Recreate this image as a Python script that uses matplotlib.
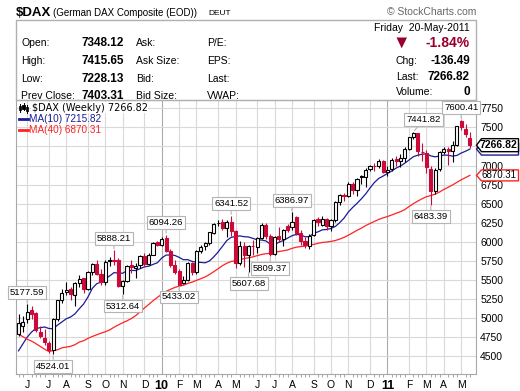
import numpy as np
import pandas as pd
import matplotlib
matplotlib.use("Agg")
import matplotlib.pyplot as plt
from matplotlib.patches import Rectangle, Polygon
from matplotlib.lines import Line2D

plt.rcParams['font.family'] = ['Liberation Sans', 'DejaVu Sans']

# weekly bars, first week starts Monday 18-May-2009, last is week of 16-May-2011
start_week = "2009-05-18"

opens = [4790, 4900, 4990, 5100, 5060, 4820, 4735, 4670, 4580, 4990,
         5230, 5335, 5380, 5300, 5460, 5520, 5380, 5600, 5710, 5580,
         5470, 5762, 5760, 5760, 5420, 5490, 5700, 5660, 5690, 5810,
         5710, 5830, 5990, 5960, 6045, 5880, 5700, 5610, 5460, 5500,
         5720, 5600, 5880, 5940, 5985, 6120, 6240, 6255, 6180, 6260,
         6140, 5720, 5950, 5830, 5950, 5930, 6050, 6220, 6070, 5840,
         6070, 6040, 6210, 6195, 6330, 6110, 6010, 5950, 6090, 6300,
         6225, 6300, 6210, 6280, 6520, 6610, 6600, 6760, 6680, 6860,
         6850, 6950, 7000, 6990, 7060, 6920, 6950, 7080, 7065, 7100,
         7220, 7380, 7420, 7180, 7170, 6950, 6670, 6950, 7180, 7220,
         7190, 7270, 7580, 7480, 7360]

highs = [5050, 5030, 5177.59, 5150, 5075, 4900, 4860, 4700, 4995, 5240,
         5380, 5470, 5400, 5470, 5560, 5530, 5620, 5720, 5760, 5640,
         5760, 5800, 5888.21, 5790, 5500, 5700, 5760, 5720, 5830, 5850,
         5850, 5990, 6010, 6060, 6094.26, 5900, 5760, 5640, 5550, 5730,
         5740, 5890, 5960, 6000, 6130, 6250, 6280, 6300, 6280, 6341.52,
         6150, 6010, 5990, 5960, 6020, 6060, 6240, 6240, 6100, 6080,
         6190, 6170, 6230, 6386.97, 6340, 6150, 6060, 6100, 6300, 6330,
         6340, 6310, 6300, 6540, 6630, 6640, 6780, 6790, 6840, 6880,
         6970, 7010, 7030, 7080, 7070, 6990, 7100, 7130, 7150, 7240,
         7380, 7441.82, 7430, 7300, 7200, 6990, 6970, 7190, 7240, 7240,
         7320, 7520, 7600.41, 7540, 7440]

lows = [4760, 4820, 4930, 4990, 4820, 4730, 4650, 4545, 4524.01, 4960,
        5200, 5300, 5230, 5150, 5400, 5330, 5360, 5560, 5560, 5430,
        5430, 5680, 5690, 5400, 5312.64, 5470, 5590, 5520, 5650, 5680,
        5700, 5820, 5940, 5940, 5860, 5670, 5580, 5433.02, 5450, 5480,
        5560, 5580, 5850, 5890, 5960, 6100, 6200, 6150, 6060, 6080,
        5660, 5700, 5670, 5607.68, 5830, 5850, 6030, 6040, 5809.37, 5820,
        6000, 5940, 6130, 6150, 6090, 5960, 5920, 5900, 6070, 6200,
        6210, 6160, 6140, 6260, 6480, 6540, 6590, 6620, 6600, 6760,
        6720, 6930, 6930, 6970, 6900, 6860, 6930, 7000, 6980, 7050,
        7200, 7350, 7120, 7060, 6900, 6483.39, 6620, 6930, 7150, 7010,
        7040, 7250, 7460, 7370, 7228.13]

closes = [4929, 4941, 5077, 5052, 4840, 4760, 4680, 4576, 4980, 5229,
          5332, 5360, 5310, 5462, 5517, 5378, 5600, 5705, 5581, 5467,
          5740, 5748, 5742, 5414, 5489, 5687, 5663, 5685, 5817, 5709,
          5831, 5985, 5957, 6037, 5875, 5696, 5608, 5434, 5500, 5722,
          5598, 5877, 5936, 5982, 6121, 6236, 6250, 6180, 6259, 6136,
          5716, 5946, 5829, 5947, 5938, 6049, 6217, 6070, 5835, 6066,
          6041, 6160, 6148, 6260, 6110, 6005, 5952, 6081, 6280, 6260,
          6299, 6211, 6280, 6520, 6610, 6601, 6754, 6682, 6822, 6849,
          6947, 6993, 6991, 7057, 6914, 6947, 7075, 7062, 7102, 7216,
          7372, 7426, 7185, 7178, 6983.2, 6664, 6946, 7180, 7217, 7188,
          7264, 7514, 7500, 7418.4, 7266.82]

# 39 weekly closes before the first bar (Aug 2008 - May 2009), for MA(40)
pre_closes = [6292, 6422, 6042, 6186, 6189, 6123, 5797, 4544, 4782, 4295,
              4988, 4899, 4621, 4127, 4669, 4381, 4709, 4696, 4629, 4984,
              4783, 4322, 4218, 4338, 4666, 4462, 4172, 3844, 3696, 3954,
              4034, 4187, 4383, 4368, 4664, 4584, 4770, 5021, 4737]

high_marks = [2, 22, 34, 49, 63, 91, 102]
low_marks = [8, 24, 37, 53, 58, 95]

yticks = np.arange(4500, 7751, 250)

info_left = [("Open:", "7348.12", "Ask:", "P/E:"),
             ("High:", "7415.65", "Ask Size:", "EPS:"),
             ("Low:", "7228.13", "Bid:", "Last:"),
             ("Prev Close:", "7403.31", "Bid Size:", "VWAP:")]
info_right = [("Chg:", "-136.49"), ("Last:", "7266.82"), ("Volume:", "0")]

W, H = 520, 391
up_col = "black"
dn_col = "#cc0a38"
grid_col = "#d9d9d9"
navy = "#1c1c96"
red = "#ff2222"


def fx(x):
    return x / W


def fy(y):
    return 1 - y / H


fig = plt.figure(figsize=(W / 100, H / 100), dpi=100)
ax = fig.add_axes([fx(16.3), fy(374), fx(476) - fx(16.3), fy(100) - fy(374)])

n = len(closes)
bars = np.arange(n)
weeks = pd.date_range(start_week, periods=n, freq="7D")
allc = pd.Series(pre_closes + closes)
ma10 = allc.rolling(10).mean().values[len(pre_closes):]
ma40 = allc.rolling(40).mean().values[len(pre_closes):]
prev = [pre_closes[-1]] + closes[:-1]

for i in bars:
    o, h, l, c = opens[i], highs[i], lows[i], closes[i]
    col = up_col if c >= prev[i] else dn_col
    ax.vlines(i, l, h, color=col, lw=0.8, zorder=3)
    ax.add_patch(Rectangle((i - 0.36, min(o, c)), 0.72, max(abs(c - o), 5),
                           fc="white" if c > o else col, ec=col, lw=0.8, zorder=4))

ax.plot(bars, ma10, color=navy, lw=0.9, zorder=2)
ax.plot(bars, ma40, color=red, lw=0.9, zorder=2)

ax.set_xlim(-0.51, 105.41)
ax.set_ylim(4263.8, 7859.6)

# month grid at the first week of each month
month_bars = [i for i in range(1, n) if weeks[i].month != weeks[i - 1].month]
month_lbls = []
for b in month_bars:
    if weeks[b].month == 1:
        month_lbls.append(weeks[b].strftime("%y"))
        ax.axvline(b, color="#ababab", lw=0.8, zorder=0)
    else:
        month_lbls.append(weeks[b].strftime("%b")[0])
        ax.axvline(b, color=grid_col, lw=0.8, zorder=0)
ax.set_xticks(month_bars)
ax.set_xticklabels(month_lbls)
ax.set_xticks(bars, minor=True)
ax.tick_params(axis="x", which="major", length=0, pad=4, labelsize=7.5)
ax.tick_params(axis="x", which="minor", length=2, width=0.6, color="#999999")
for lbl, b in zip(ax.get_xticklabels(), month_bars):
    if weeks[b].month == 1:
        lbl.set_fontweight("bold")
        lbl.set_fontsize(9)

ax.yaxis.tick_right()
ax.set_yticks(yticks)
ax.tick_params(axis="y", length=0, pad=3, labelsize=7.5)
ax.grid(axis="y", color=grid_col, lw=0.8, zorder=0)
ax.set_axisbelow(True)
for s in ax.spines.values():
    s.set_color("#a8a8a8")

# high / low value flags
label_shift = {91: 10}
for i in high_marks:
    ax.annotate(f"{highs[i]:.2f}", xy=(i, highs[i]), xytext=(label_shift.get(i, 0), 12),
                textcoords="offset pixels", ha="center", va="center", fontsize=6.8,
                bbox=dict(boxstyle="square,pad=0.2", fc="white", ec="#b4b4b4", lw=0.8),
                arrowprops=dict(arrowstyle="-", color="#b4b4b4", lw=0.8, shrinkA=0, shrinkB=1),
                zorder=6)
for i in low_marks:
    ax.annotate(f"{lows[i]:.2f}", xy=(i, lows[i]), xytext=(label_shift.get(i, 0), -12),
                textcoords="offset pixels", ha="center", va="center", fontsize=6.8,
                bbox=dict(boxstyle="square,pad=0.2", fc="white", ec="#b4b4b4", lw=0.8),
                arrowprops=dict(arrowstyle="-", color="#b4b4b4", lw=0.8, shrinkA=0, shrinkB=1),
                zorder=6)


# price tags on the right edge
def tag(v, txt, ec, tc, bold, hh, z):
    ypx = H - ax.transData.transform((0, v))[1]
    x0, x1 = 476.5, 518.5
    pts = [(x0, ypx), (x0 + 5, ypx - hh), (x1, ypx - hh), (x1, ypx + hh), (x0 + 5, ypx + hh)]
    fig.add_artist(Polygon([(fx(a), fy(b)) for a, b in pts], closed=True, fc="white",
                           ec=ec, lw=1, transform=fig.transFigure, zorder=z))
    fig.text(fx(x1 - 1.5), fy(ypx), txt, ha="right", va="center", fontsize=7.5 if bold else 7,
             weight="bold" if bold else "normal", color=tc, zorder=z + 0.5)


tag(ma10[-1], f"{ma10[-1]:.2f}", navy, navy, False, 6, 10)
tag(closes[-1], f"{closes[-1]:.2f}", "black", "black", True, 6.5, 12)
tag(ma40[-1], f"{ma40[-1]:.2f}", red, "black", False, 5.5, 14)

# legend
for dx, yb0, yb1, filled in [(20, 106, 110, False), (23.5, 105, 109, True), (27, 107, 111, False)]:
    fig.add_artist(Line2D([fx(dx), fx(dx)], [fy(yb0 - 2), fy(yb1 + 1.5)], color="black", lw=0.7))
    fig.add_artist(Rectangle((fx(dx - 1.2), fy(yb1)), 2.4 / W, (yb1 - yb0) / H,
                             fc="black" if filled else "white", ec="black", lw=0.6,
                             transform=fig.transFigure))
fig.text(fx(31.5), fy(107.7), f"$DAX (Weekly) {closes[-1]:.2f}", fontsize=7, va="center",
         family="DejaVu Sans", bbox=dict(fc="white", ec="none", pad=0.5))
fig.add_artist(Line2D([fx(19), fx(27.5)], [fy(119), fy(119)], color=navy, lw=2))
fig.text(fx(29.3), fy(119), f"MA(10) {ma10[-1]:.2f}", fontsize=7.2, va="center", color=navy)
fig.add_artist(Line2D([fx(19), fx(27.5)], [fy(130), fy(130)], color=red, lw=2))
fig.text(fx(29.3), fy(130), f"MA(40) {ma40[-1]:.2f}", fontsize=7.2, va="center", color=red)

# header
fig.text(fx(15.5), fy(13), "$DAX", fontsize=9.5, weight="bold", va="center")
fig.text(fx(53), fy(13.5), "(German DAX Composite (EOD))", fontsize=7, va="center")
fig.text(fx(208), fy(13.5), "DEUT", fontsize=6, va="center")
fig.text(fx(476), fy(12), "\u00a9 StockCharts.com", fontsize=7.5, color="#666666",
         ha="right", va="center")
fig.add_artist(Rectangle((fx(16.3), fy(100)), fx(476) - fx(16.3), fy(19.5) - fy(100),
                         fc="none", ec="#b0b0b0", lw=1, transform=fig.transFigure))

for r, (lab, val, c2, c3) in enumerate(info_left):
    yy = 43.3 + r * 17.6
    fig.text(fx(21), fy(yy), lab, fontsize=7.5, va="center")
    fig.text(fx(82), fy(yy), val, fontsize=8.5, weight="bold", va="center")
    fig.text(fx(136), fy(yy), c2, fontsize=7.5, va="center")
    fig.text(fx(207), fy(yy), c3, fontsize=7.5, va="center")

fig.text(fx(470), fy(28), "Friday  20-May-2011", fontsize=7.5, ha="right", va="center")
fig.add_artist(Polygon([(fx(396.5), fy(37.5)), (fx(407), fy(37.5)), (fx(401.7), fy(48.3))],
                       closed=True, fc="#99002b", ec="none", transform=fig.transFigure))
fig.text(fx(470), fy(43), "-1.84%", fontsize=10, weight="bold", color="#99002b",
         ha="right", va="center")
for r, (lab, val) in enumerate(info_right):
    yy = 61 + r * 15.5
    fig.text(fx(396), fy(yy), lab, fontsize=7.5, va="center")
    fig.text(fx(470), fy(yy), val, fontsize=8.5, weight="bold", ha="right", va="center")

fig.savefig("out.png", dpi=100)
